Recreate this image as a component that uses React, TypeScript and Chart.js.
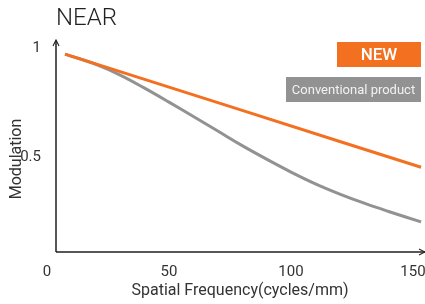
import React, { useEffect, useRef } from "react";
import { Chart, registerables } from "chart.js";

Chart.register(...registerables);

// ---- data ----
const chartTitle = "NEAR";
const xAxisTitle = "Spatial Frequency(cycles/mm)";
const yAxisTitle = "Modulation";
const seriesLabels = ["NEW", "Conventional product"];

const newFrequency = [7.4, 40, 80, 120, 153.3];
const newModulation = [0.972, 0.856, 0.714, 0.571, 0.453];

const conventionalFrequency = [7.4, 20, 30, 40, 50, 60, 70, 80, 90, 100, 110, 120, 130, 140, 153.3];
const conventionalModulation = [0.972, 0.925, 0.876, 0.816, 0.752, 0.686, 0.619, 0.552, 0.49, 0.431, 0.377, 0.33, 0.288, 0.25, 0.202];

const xTickValues = [0, 50, 100, 150];
const yTickValues = [0.5, 1];

// axis extents (where the drawn axis lines sit)
const X_MIN = 3.7;
const X_MAX = 154.5;
const Y_MIN = 0.064;
const Y_MAX = 1.037;

// ---- styles ----
const ORANGE = "#f37021";
const GREY = "#929292";
const INK = "#231f20";
const FONT = "Roboto, 'Noto Sans', sans-serif";

const legendStyles = [
  { width: 84, height: 25, gap: 0, font: `500 17px ${FONT}`, text: "#ffffff" },
  { width: 135, height: 25, gap: 10, font: `400 13px ${FONT}`, text: "#f2f2f2" },
];

const decorPlugin = {
  id: "decor",
  afterDraw(chart: any) {
    const { ctx, chartArea: a } = chart;
    ctx.save();
    // axis lines
    ctx.strokeStyle = INK;
    ctx.lineWidth = 1.5;
    ctx.beginPath();
    ctx.moveTo(a.left, a.bottom);
    ctx.lineTo(a.left, a.top + 0.5);
    ctx.moveTo(a.left, a.bottom);
    ctx.lineTo(a.right + 1, a.bottom);
    ctx.stroke();
    // arrow heads
    ctx.lineWidth = 1.1;
    ctx.beginPath();
    ctx.moveTo(a.left - 3, a.top + 6);
    ctx.lineTo(a.left, a.top);
    ctx.lineTo(a.left + 3, a.top + 6);
    ctx.moveTo(a.right - 5, a.bottom - 3);
    ctx.lineTo(a.right + 1, a.bottom);
    ctx.lineTo(a.right - 5, a.bottom + 3);
    ctx.stroke();

    // y axis title
    ctx.save();
    ctx.translate(17, (a.top + a.bottom) / 2 + 13);
    ctx.rotate(-Math.PI / 2);
    ctx.fillStyle = "#333333";
    ctx.font = `400 16px ${FONT}`;
    ctx.textAlign = "center";
    ctx.textBaseline = "middle";
    ctx.fillText(yAxisTitle, 0, 0);
    ctx.restore();

    // legend boxes
    let top = a.top + 2;
    chart.data.datasets.forEach((ds: any, i: number) => {
      const st = legendStyles[i];
      top += st.gap;
      const right = a.right - 3;
      const left = right - st.width;
      ctx.fillStyle = ds.borderColor;
      ctx.fillRect(left, top, st.width, st.height);
      ctx.fillStyle = st.text;
      ctx.font = st.font;
      ctx.textAlign = "center";
      ctx.textBaseline = "middle";
      ctx.fillText(ds.label, left + st.width / 2, top + st.height / 2 + 1);
      top += st.height;
    });
    ctx.restore();
  },
};

export default function App() {
  const canvasRef = useRef<HTMLCanvasElement | null>(null);

  useEffect(() => {
    if (!canvasRef.current) return;
    const chart = new Chart(canvasRef.current, {
      type: "line",
      data: {
        datasets: [
          {
            label: seriesLabels[0],
            data: newFrequency.map((x, i) => ({ x, y: newModulation[i] })),
            borderColor: ORANGE,
            backgroundColor: ORANGE,
            borderWidth: 3,
            pointRadius: 0,
            fill: false,
            tension: 0,
          },
          {
            label: seriesLabels[1],
            data: conventionalFrequency.map((x, i) => ({ x, y: conventionalModulation[i] })),
            borderColor: GREY,
            backgroundColor: GREY,
            borderWidth: 3,
            pointRadius: 0,
            fill: false,
            tension: 0.4,
          },
        ],
      },
      options: {
        responsive: false,
        animation: false,
        layout: { padding: { top: 0, left: 0, right: 1, bottom: 0 } },
        plugins: {
          legend: { display: false },
          tooltip: { enabled: false },
          title: {
            display: true,
            text: chartTitle,
            align: "start",
            fullSize: false,
            color: INK,
            font: { family: FONT, size: 24, weight: "300" },
            padding: { top: 5, bottom: 6.2 },
          },
        },
        scales: {
          x: {
            type: "linear",
            min: X_MIN,
            max: X_MAX,
            afterBuildTicks: (s: any) => {
              s.ticks = xTickValues.map((v) => ({ value: v }));
            },
            afterFit: (s: any) => {
              s.height = 52;
              s.paddingLeft = 0;
              s.paddingRight = 0;
            },
            grid: { display: false },
            border: { display: false },
            ticks: {
              autoSkip: false,
              maxRotation: 0,
              padding: 3,
              color: "#333333",
              font: { family: FONT, size: 15 },
              callback: (v: any) => String(v),
            },
            title: {
              display: true,
              text: xAxisTitle,
              color: "#333333",
              font: { family: FONT, size: 16 },
              padding: { top: 0, bottom: 3 },
            },
          },
          y: {
            type: "linear",
            min: Y_MIN,
            max: Y_MAX,
            afterBuildTicks: (s: any) => {
              s.ticks = yTickValues.map((v) => ({ value: v }));
            },
            afterFit: (s: any) => {
              s.width = 56;
              s.paddingTop = 0;
              s.paddingBottom = 0;
            },
            grid: { display: false },
            border: { display: false },
            ticks: {
              padding: 7,
              color: "#333333",
              font: { family: FONT, size: 15 },
              callback: (v: any) => String(v),
            },
          },
        },
      },
      plugins: [decorPlugin],
    } as any);
    return () => chart.destroy();
  }, []);

  return (
    <div style={{ position: "fixed", left: 0, top: 0, width: 425, height: 304, background: "#fff" }}>
      <canvas ref={canvasRef} width={425} height={304} style={{ display: "block" }} />
    </div>
  );
}
